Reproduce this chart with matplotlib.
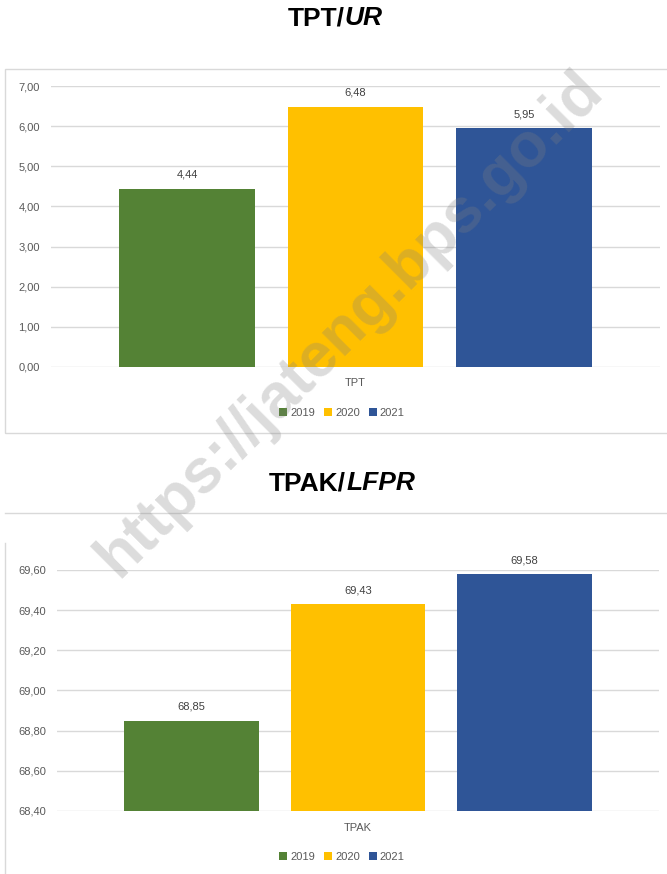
import matplotlib
matplotlib.use("Agg")
import matplotlib.pyplot as plt
from matplotlib.patches import Rectangle, Patch
from matplotlib.lines import Line2D

W, H = 667, 874
DPI = 100

years = ["2019", "2020", "2021"]
colors = ["#548235", "#FFC000", "#2F5597"]
tpt_values = [4.44, 6.48, 5.95]
tpak_values = [68.85, 69.43, 69.58]
tpt_ticks = [0, 1, 2, 3, 4, 5, 6, 7]
tpak_ticks = [68.4, 68.6, 68.8, 69.0, 69.2, 69.4, 69.6]

GREY = "#595959"
GRID = "#D9D9D9"
FONT = ["Liberation Sans", "DejaVu Sans"]
plt.rcParams["font.family"] = FONT
FS = 8

fig = plt.figure(figsize=(W / DPI, H / DPI), dpi=DPI)


def px_axes(left, right, top, bottom):
    return fig.add_axes([left / W, 1 - bottom / H, (right - left) / W, (bottom - top) / H])


def fmt(v):
    return f"{v:.2f}".replace(".", ",")


def draw_chart(ax, values, ticks, ylim, cat):
    xs = [-1, 0, 1]
    bars = ax.bar(xs, [v - ylim[0] for v in values], bottom=ylim[0], width=0.807,
                  color=colors, zorder=3)
    ax.set_xlim(-1.807, 1.807)
    ax.set_ylim(*ylim)
    ax.set_yticks(ticks)
    ax.set_yticklabels([fmt(t) for t in ticks], color=GREY, fontsize=FS)
    ax.tick_params(axis="y", length=0, pad=8)
    ax.set_xticks([])
    for s in ax.spines.values():
        s.set_visible(False)
    ax.patch.set_alpha(0)
    for t in ticks:
        ax.axhline(t, color=GRID, lw=1, zorder=1)
    for x, v in zip(xs, values):
        ax.annotate(fmt(v), (x, v), xytext=(0, 10), textcoords="offset points",
                    ha="center", va="center", color="#404040", fontsize=FS,
                    annotation_clip=False)
    return bars


def legend_at(xc, yc):
    handles = [Patch(facecolor=c, edgecolor="none") for c in colors]
    fig.legend(handles, years, loc="center", bbox_to_anchor=(xc / W, 1 - yc / H),
               ncol=3, frameon=False, fontsize=FS, handlelength=0.7, handleheight=0.7,
               handletextpad=0.3, columnspacing=0.8, labelcolor=GREY)


def title(text_bold, text_it, xc, yc):
    t1 = fig.text(0, 1 - yc / H, text_bold, fontsize=19, fontweight="bold",
                  va="center", ha="left", color="black")
    t2 = fig.text(0, 1 - yc / H, text_it, fontsize=19, fontweight="bold", style="italic",
                  va="center", ha="left", color="black")
    fig.canvas.draw()
    r = fig.canvas.get_renderer()
    w1 = t1.get_window_extent(r).width
    w2 = t2.get_window_extent(r).width
    x0 = xc - (w1 + w2) / 2
    t1.set_x(x0 / W)
    t2.set_x((x0 + w1) / W)


# frames
fig.add_artist(Rectangle((5 / W, 1 - 433 / H), 700 / W, (433 - 69) / H,
                         transform=fig.transFigure, fill=False, edgecolor=GRID, lw=1))
fig.add_artist(Line2D([5 / W, 1], [1 - 513 / H, 1 - 513 / H], transform=fig.transFigure,
                      color=GRID, lw=1))
fig.add_artist(Line2D([5 / W, 5 / W], [1 - 543 / H, 0], transform=fig.transFigure,
                      color=GRID, lw=1))

# top chart
ax1 = px_axes(51, 660, 86, 367)
draw_chart(ax1, tpt_values, tpt_ticks, (0, 7), "TPT")
fig.text(355 / W, 1 - 383 / H, "TPT", ha="center", va="center", color=GREY, fontsize=FS)
legend_at(342, 413)

# bottom chart
ax2 = px_axes(57, 659, 570, 811)
draw_chart(ax2, tpak_values, tpak_ticks, (68.4, 69.6), "TPAK")
fig.text(358 / W, 1 - 828 / H, "TPAK", ha="center", va="center", color=GREY, fontsize=FS)
legend_at(342, 857)

title("TPT/", "UR", 335, 18)
title("TPAK/", "LFPR", 342, 483)

# watermark
fig.text(350 / W, 1 - 324 / H, "https://jateng.bps.go.id", rotation=45,
         rotation_mode="anchor", ha="center", va="center", fontsize=45,
         fontweight="bold", color="#808080", alpha=0.28, zorder=10)

fig.savefig("out.png", dpi=DPI)
